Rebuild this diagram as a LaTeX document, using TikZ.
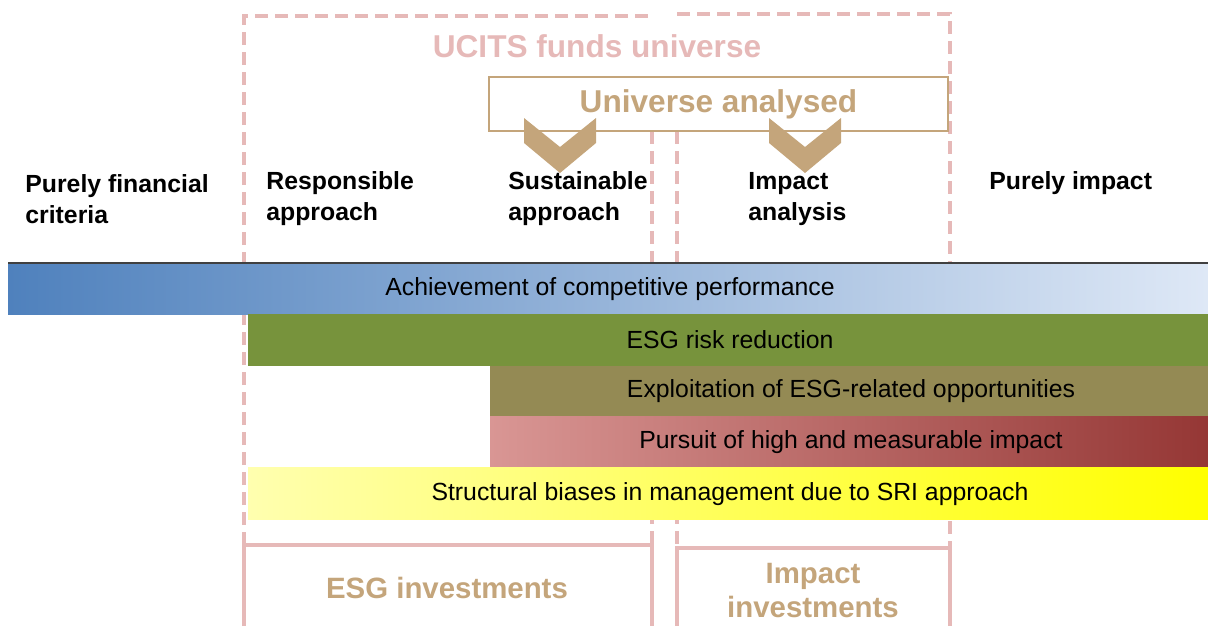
\documentclass[tikz,border=0pt]{standalone}
\usepackage{fontspec}
\setmainfont{Liberation Sans}
\definecolor{ucitspink}{RGB}{230,185,184}
\definecolor{sritan}{RGB}{196,165,123}
\definecolor{perfdark}{RGB}{79,129,189}
\definecolor{perfmid}{RGB}{178,201,230}
\definecolor{perflight}{RGB}{222,232,246}
\definecolor{riskgreen}{RGB}{119,147,60}
\definecolor{oppolive}{RGB}{148,138,84}
\definecolor{impactlight}{RGB}{217,150,148}
\definecolor{impactmid}{RGB}{188,108,106}
\definecolor{impactdark}{RGB}{149,55,53}
\definecolor{biaslight}{RGB}{255,255,175}
\definecolor{biasmid}{RGB}{255,255,158}
\definecolor{biasdark}{RGB}{255,255,0}
\tikzset{
  ucits/.style={ucitspink, line width=1.6pt, dash pattern=on 6.5pt off 3.5pt},
  ucitssolid/.style={ucitspink, line width=1.6pt},
  head/.style={anchor=west, align=left, inner sep=0pt, font=\fontsize{12.4}{15.5}\selectfont\bfseries},
  bartext/.style={inner sep=0pt, font=\fontsize{12.4}{15}\selectfont},
  bigtitle/.style={inner sep=0pt, font=\fontsize{15.8}{19}\selectfont\bfseries},
  invtitle/.style={inner sep=0pt, align=center, text=sritan, font=\fontsize{14.7}{17}\selectfont\bfseries}
}
\begin{document}
\begin{tikzpicture}[x=0.5pt,y=-0.5pt]
\useasboundingbox (0,0) rectangle (1208,626);
% UCITS boxes, dashed above, solid below
\draw[ucits] (244,545) -- (244,16) -- (650,16);
\draw[ucits] (652,131) -- (652,545);
\draw[ucits] (677,14) -- (950,14) -- (950,548);
\draw[ucits] (677,131) -- (677,548);
\draw[ucitssolid] (244,626) -- (244,545) -- (652,545) -- (652,626);
\draw[ucitssolid] (677,626) -- (677,548) -- (950,548) -- (950,626);
\node[bigtitle, text=ucitspink] (ucits) at (597,46) {UCITS funds universe};
\node[bigtitle, text=sritan, draw=sritan, line width=1pt, minimum width=229.5pt, minimum height=27pt] (analysed) at (718.5,104) {Universe analysed};
\foreach \cx in {560,805}
    \fill[sritan] (\cx-36,118) -- (\cx,147) -- (\cx+36,118) -- (\cx+36,143) -- (\cx,173) -- (\cx-36,143) -- cycle;
% column heads
\node[head] (financial) at (25,199) {Purely financial\\criteria};
\node[head] (responsible) at (266,199) {Responsible\\approach};
\node[head] (sustainable) at (508,199) {Sustainable\\approach};
\node[head] (impactan) at (748,199) {Impact\\analysis};
\node[head] (pureimpact) at (989,183) {Purely impact};
% bars
\shade[left color=perfdark, middle color=perfmid, right color=perflight] (8,263) rectangle (1208,314);
\draw[line width=1pt, black!75] (8,263) -- (1208,263);
\node[bartext] (perf) at (610,289) {Achievement of competitive performance};
\fill[riskgreen] (248,314) rectangle (1208,366);
\node[bartext] (risk) at (730,340) {ESG risk reduction};
\fill[oppolive] (490,366) rectangle (1208,416);
\node[bartext] (opport) at (851,391) {Exploitation of ESG-related opportunities};
\shade[left color=impactlight, middle color=impactmid, right color=impactdark] (490,416) rectangle (1208,467);
\node[bartext] (pursuit) at (851,442) {Pursuit of high and measurable impact};
\shade[left color=biaslight, middle color=biasmid, right color=biasdark] (248,467) rectangle (1208,519);
\node[bartext] (biases) at (730,494) {Structural biases in management due to SRI approach};
% investment types
\node[invtitle] (esginv) at (447,588) {ESG investments};
\node[invtitle] (impinv) at (813,591) {Impact\\investments};
\end{tikzpicture}
\end{document}
